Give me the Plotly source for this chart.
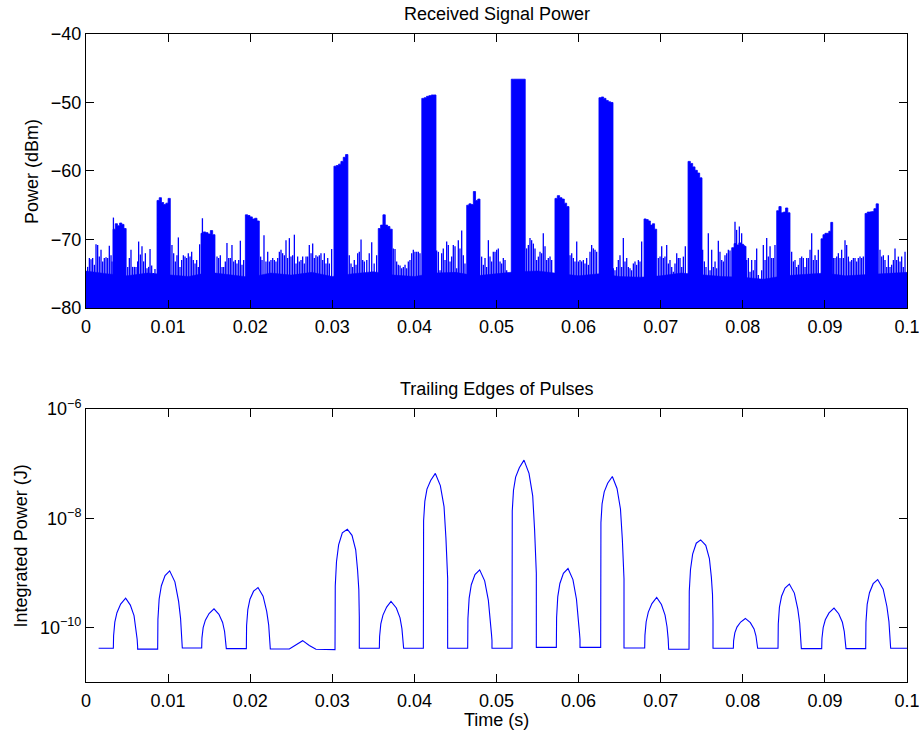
import plotly.graph_objects as go

# ---------------------------------------------------------------
# Received signal power (dBm) vs time (s)
# ---------------------------------------------------------------
# dense noise floor: upper edge of the solid band, every 2.5 ms
floor_t = [k * 0.0025 for k in range(41)]
floor_dbm = [-74.6, -75.0, -75.3, -74.9, -75.2, -75.4, -74.8, -75.2, -75.5, -74.9,
             -75.2, -74.8, -75.4, -75.0, -74.7, -75.2, -75.4, -74.9, -74.8, -75.3,
             -75.0, -74.7, -74.6, -74.9, -75.3, -75.0, -75.4, -75.5, -75.3, -74.9,
             -75.2, -75.4, -75.5, -75.8, -75.3, -75.1, -74.9, -75.3, -75.1, -74.9,
             -74.8]

# noise spikes above the floor
spike_t = [
    0.00020, 0.00041, 0.00061, 0.00081, 0.00102, 0.00122, 0.00142, 0.00162, 0.00183, 0.00203,
    0.00223, 0.00244, 0.00264, 0.00284, 0.00305, 0.00317, 0.00334,
    0.00508, 0.00528, 0.00548, 0.00568, 0.00589, 0.00609, 0.00629, 0.00641, 0.00662, 0.00682,
    0.00702, 0.00723, 0.00743, 0.00763, 0.00780, 0.00800, 0.00820, 0.00840,
    0.01047, 0.01068, 0.01088, 0.01108, 0.01125, 0.01145, 0.01165, 0.01186, 0.01206, 0.01226,
    0.01246, 0.01267, 0.01287, 0.01307, 0.01328, 0.01348, 0.01368, 0.01384, 0.01418,
    0.01596, 0.01616, 0.01636, 0.01657, 0.01677, 0.01697, 0.01717, 0.01738, 0.01758, 0.01778,
    0.01799, 0.01819, 0.01839, 0.01860, 0.01880, 0.01900, 0.01920,
    0.02127, 0.02144, 0.02168, 0.02192, 0.02213, 0.02233, 0.02253, 0.02274, 0.02294, 0.02314,
    0.02335, 0.02355, 0.02375, 0.02395, 0.02416, 0.02436, 0.02456, 0.02477, 0.02497, 0.02517,
    0.02538, 0.02558, 0.02578, 0.02598, 0.02619, 0.02639, 0.02659, 0.02680, 0.02700, 0.02720,
    0.02741, 0.02761, 0.02781, 0.02801, 0.02822, 0.02842, 0.02862, 0.02883, 0.02903, 0.02923,
    0.02944, 0.02964, 0.02992,
    0.03207, 0.03228, 0.03248, 0.03268, 0.03289, 0.03309, 0.03329, 0.03350, 0.03370, 0.03390,
    0.03420, 0.03450, 0.03480, 0.03510, 0.03540,
    0.03743, 0.03764, 0.03784, 0.03804, 0.03825, 0.03845, 0.03865, 0.03886, 0.03906, 0.03926,
    0.03946, 0.03967, 0.03987, 0.04007, 0.04028, 0.04048, 0.04068,
    0.04271, 0.04292, 0.04312, 0.04332, 0.04352, 0.04373, 0.04393, 0.04413, 0.04434, 0.04454,
    0.04474, 0.04495, 0.04515, 0.04535, 0.04555, 0.04576, 0.04596, 0.04616,
    0.04819, 0.04840, 0.04860, 0.04880, 0.04901, 0.04921, 0.04941, 0.04961, 0.04982, 0.05002,
    0.05022, 0.05043, 0.05063, 0.05083, 0.05104, 0.05124,
    0.05367, 0.05388, 0.05408, 0.05428, 0.05449, 0.05469, 0.05489, 0.05510, 0.05530, 0.05550,
    0.05570, 0.05591, 0.05611, 0.05631, 0.05652, 0.05672,
    0.05895, 0.05916, 0.05936, 0.05956, 0.05977, 0.05997, 0.06017, 0.06037, 0.06058, 0.06078,
    0.06098, 0.06119, 0.06139, 0.06159, 0.06180, 0.06200, 0.06220,
    0.06423, 0.06443, 0.06464, 0.06484, 0.06504, 0.06525, 0.06545, 0.06565, 0.06586, 0.06606,
    0.06626, 0.06646, 0.06667, 0.06687, 0.06707, 0.06728, 0.06748, 0.06768,
    0.06971, 0.06992, 0.07012, 0.07032, 0.07052, 0.07073, 0.07093, 0.07113, 0.07134, 0.07154,
    0.07174, 0.07195, 0.07215, 0.07235, 0.07256, 0.07276, 0.07300,
    0.07511, 0.07532, 0.07552, 0.07580, 0.07601, 0.07621, 0.07641, 0.07662, 0.07682, 0.07702,
    0.07722, 0.07743, 0.07763, 0.07783, 0.07804, 0.07824, 0.07844,
    0.07905, 0.07925, 0.07958, 0.07986, 0.08015,
    0.08047, 0.08068, 0.08088, 0.08108, 0.08128, 0.08149, 0.08169, 0.08189, 0.08210, 0.08230,
    0.08250, 0.08271, 0.08291, 0.08311, 0.08332, 0.08352, 0.08372, 0.08392,
    0.08595, 0.08616, 0.08636, 0.08656, 0.08677, 0.08697, 0.08717, 0.08737, 0.08758, 0.08778,
    0.08798, 0.08819, 0.08839, 0.08859, 0.08880, 0.08900, 0.08920,
    0.09103, 0.09123, 0.09144, 0.09164, 0.09184, 0.09204, 0.09225, 0.09245, 0.09265, 0.09286,
    0.09306, 0.09326, 0.09347, 0.09367, 0.09387, 0.09407, 0.09428, 0.09448, 0.09468,
    0.09671, 0.09692, 0.09712, 0.09732, 0.09753, 0.09773, 0.09793, 0.09813, 0.09834, 0.09854,
    0.09874, 0.09895, 0.09915, 0.09935, 0.09955, 0.09976,
]
spike_dbm = [
    -74.0, -72.7, -72.9, -72.7, -73.7, -70.7, -70.8, -72.5, -71.5, -73.2,
    -72.7, -72.6, -72.7, -70.9, -72.3, -73.2, -66.8,
    -74.0, -72.7, -71.5, -74.0, -74.0, -74.0, -73.2, -70.3, -72.2, -71.0,
    -73.2, -72.0, -74.2, -74.0, -71.4, -73.8, -74.9, -74.3,
    -70.8, -72.0, -73.2, -72.3, -69.7, -74.0, -73.0, -72.3, -72.5, -72.7,
    -72.0, -72.5, -71.8, -73.0, -73.5, -73.0, -74.0, -70.7, -66.9,
    -72.5, -72.7, -72.3, -74.0, -74.0, -73.2, -70.5, -72.7, -72.7, -70.8,
    -73.2, -73.0, -73.5, -73.0, -70.2, -73.7, -73.0,
    -72.5, -73.0, -69.4, -73.2, -71.8, -73.2, -73.0, -72.7, -73.0, -73.2,
    -72.7, -71.8, -71.5, -72.0, -72.3, -70.1, -72.7, -69.8, -72.5, -72.3,
    -69.3, -73.5, -72.5, -73.2, -73.0, -72.5, -73.5, -72.5, -72.5, -70.8,
    -72.0, -70.6, -72.7, -72.3, -72.5, -72.3, -72.0, -73.0, -72.0, -73.5,
    -72.7, -73.5, -71.4,
    -72.3, -73.5, -74.0, -73.0, -73.7, -72.0, -71.8, -70.0, -73.0, -73.2,
    -73.0, -72.0, -70.4, -73.5, -72.3,
    -71.3, -71.4, -73.2, -73.7, -73.8, -74.2, -74.0, -73.7, -74.2, -73.2,
    -73.0, -72.0, -71.5, -71.8, -71.8, -71.8, -72.0,
    -71.6, -71.8, -74.5, -72.0, -71.3, -73.0, -70.3, -70.8, -73.2, -72.5,
    -70.8, -71.0, -74.2, -70.1, -71.3, -68.7, -72.3, -73.5,
    -72.5, -73.7, -72.7, -74.0, -70.1, -72.5, -73.2, -71.8, -71.8, -71.5,
    -71.3, -73.2, -73.5, -72.7, -73.0, -74.5,
    -71.3, -70.8, -69.8, -70.1, -70.6, -71.3, -73.0, -72.5, -71.8, -72.0,
    -69.1, -71.0, -73.0, -72.7, -72.5, -73.0,
    -72.3, -72.0, -72.7, -73.2, -70.3, -73.2, -73.0, -73.2, -73.0, -73.5,
    -72.7, -73.7, -71.8, -70.8, -71.3, -71.5, -71.8,
    -74.2, -74.5, -74.0, -73.0, -72.3, -74.0, -69.8, -73.2, -72.7, -74.0,
    -74.2, -74.5, -73.5, -73.2, -73.7, -73.0, -73.2, -70.3,
    -72.7, -72.5, -71.0, -72.7, -72.5, -70.8, -73.5, -73.0, -74.0, -74.7,
    -73.5, -72.0, -72.7, -72.7, -74.0, -72.5, -71.0,
    -71.5, -73.2, -74.0, -69.1, -74.5, -71.5, -74.0, -73.2, -74.2, -70.2,
    -71.8, -73.0, -73.2, -72.3, -72.0, -71.5, -71.6,
    -67.4, -68.6, -68.1, -69.1, -70.8,
    -73.0, -72.7, -74.7, -73.0, -74.5, -73.0, -71.3, -75.2, -76.2, -74.5,
    -70.8, -73.0, -69.8, -72.5, -71.0, -72.7, -72.7, -70.8,
    -71.8, -73.2, -73.0, -74.0, -73.7, -72.7, -72.5, -72.7, -74.0, -72.7,
    -72.7, -71.5, -69.1, -73.0, -72.3, -73.0, -71.5,
    -72.7, -72.7, -72.5, -72.0, -72.7, -71.5, -72.7, -70.1, -70.8, -72.5,
    -73.2, -73.0, -72.7, -72.7, -73.2, -72.7, -72.5, -72.7, -72.5,
    -71.5, -72.5, -72.3, -73.0, -74.0, -72.3, -74.0, -73.7, -73.0, -71.3,
    -73.0, -72.5, -73.2, -72.5, -74.0, -71.8,
]

# pulse bursts: start / end time (s) and the level across each burst (dBm)
burst_start = [0.00330, 0.00865, 0.01401, 0.01941, 0.03020, 0.03560, 0.04090, 0.04637, 0.05180,
               0.05712, 0.06248, 0.06797, 0.07333, 0.07865, 0.08413, 0.08953, 0.09489]
burst_end = [0.00489, 0.01027, 0.01571, 0.02111, 0.03190, 0.03730, 0.04263, 0.04799, 0.05350,
             0.05883, 0.06419, 0.06951, 0.07503, 0.08039, 0.08575, 0.09095, 0.09651]
burst_top = [
    [-68.5, -67.7, -68.0, -67.6, -67.8, -68.4],
    [-64.3, -63.9, -64.6, -64.9, -64.7, -64.0],
    [-69.1, -68.9, -69.0, -69.2, -68.7, -69.3],
    [-66.4, -66.5, -66.7, -67.0, -66.9, -67.3],
    [-59.3, -59.2, -59.0, -58.6, -58.0, -57.6],
    [-68.4, -67.9, -66.4, -67.9, -68.1, -68.5],
    [-49.4, -49.3, -49.1, -49.0, -48.9, -48.9],
    [-65.0, -64.8, -64.9, -63.0, -64.3, -64.1],
    [-46.6, -46.6, -46.6, -46.6, -46.6, -46.6],
    [-64.0, -63.6, -63.9, -64.1, -64.7, -65.2],
    [-49.3, -49.2, -49.4, -49.7, -49.9, -50.0],
    [-67.0, -67.1, -67.3, -67.9, -67.7, -68.5],
    [-58.6, -58.9, -59.4, -59.9, -60.3, -61.0],
    [-71.2, -70.6, -70.8, -70.5, -70.7, -71.0],
    [-65.8, -65.2, -66.1, -66.0, -65.4, -66.1],
    [-69.9, -69.3, -69.1, -69.1, -68.8, -67.5],
    [-66.2, -66.0, -66.0, -65.9, -65.5, -64.8],
]

# ---------------------------------------------------------------
# Trailing edges of pulses: integrated power (J), read as log10(J)
# ---------------------------------------------------------------
trail_t = [
    0.00154,
    0.00333, 0.00336, 0.00351, 0.00377, 0.00422, 0.00483, 0.00540, 0.00585, 0.00608, 0.00623, 0.00629, 0.00629,
    0.00873, 0.00876, 0.00891, 0.00918, 0.00963, 0.01019, 0.01083, 0.01128, 0.01152, 0.01167, 0.01173, 0.01173,
    0.01409, 0.01412, 0.01427, 0.01454, 0.01499, 0.01559, 0.01619, 0.01664, 0.01688, 0.01703, 0.01709, 0.01709,
    0.01953, 0.01956, 0.01971, 0.01997, 0.02041, 0.02095, 0.02157, 0.02201, 0.02225, 0.02239, 0.02245, 0.02245,
    0.02477, 0.02558, 0.02639, 0.02720, 0.02801,
    0.03033, 0.03036, 0.03051, 0.03077, 0.03122, 0.03183, 0.03240, 0.03285, 0.03308, 0.03323, 0.03329, 0.03329,
    0.03573, 0.03576, 0.03591, 0.03617, 0.03662, 0.03715, 0.03780, 0.03825, 0.03848, 0.03863, 0.03869, 0.03869,
    0.04109, 0.04112, 0.04127, 0.04153, 0.04198, 0.04255, 0.04316, 0.04361, 0.04384, 0.04399, 0.04405, 0.04405,
    0.04649, 0.04652, 0.04667, 0.04693, 0.04738, 0.04795, 0.04856, 0.04901, 0.04924, 0.04939, 0.04945, 0.04945,
    0.05189, 0.05192, 0.05207, 0.05233, 0.05278, 0.05335, 0.05396, 0.05441, 0.05464, 0.05479, 0.05485, 0.05485,
    0.05729, 0.05732, 0.05746, 0.05772, 0.05815, 0.05871, 0.05931, 0.05974, 0.05997, 0.06011, 0.06017, 0.06017,
    0.06269, 0.06272, 0.06286, 0.06312, 0.06354, 0.06411, 0.06468, 0.06510, 0.06533, 0.06547, 0.06553, 0.06553,
    0.06805, 0.06808, 0.06823, 0.06849, 0.06893, 0.06951, 0.07009, 0.07053, 0.07077, 0.07091, 0.07097, 0.07097,
    0.07345, 0.07348, 0.07363, 0.07389, 0.07433, 0.07487, 0.07549, 0.07593, 0.07617, 0.07631, 0.07637, 0.07637,
    0.07885, 0.07888, 0.07903, 0.07929, 0.07974, 0.08031, 0.08092, 0.08137, 0.08160, 0.08175, 0.08181, 0.08181,
    0.08429, 0.08432, 0.08446, 0.08472, 0.08514, 0.08567, 0.08628, 0.08670, 0.08693, 0.08707, 0.08713, 0.08713,
    0.08961, 0.08964, 0.08979, 0.09005, 0.09050, 0.09111, 0.09168, 0.09213, 0.09236, 0.09251, 0.09257, 0.09257,
    0.09497, 0.09500, 0.09515, 0.09543, 0.09588, 0.09643, 0.09710, 0.09755, 0.09780, 0.09795, 0.09801, 0.09801,
    0.10000,
]
trail_log10_j = [
    -10.383,
    -10.383, -10.153, -9.905, -9.730, -9.573, -9.463, -9.592, -9.785, -9.997, -10.217, -10.355, -10.398,
    -10.398, -9.853, -9.480, -9.236, -9.050, -8.964, -9.165, -9.523, -9.839, -10.140, -10.255, -10.377,
    -10.377, -10.197, -10.004, -9.867, -9.745, -9.659, -9.760, -9.910, -10.075, -10.248, -10.355, -10.389,
    -10.389, -9.964, -9.673, -9.483, -9.337, -9.270, -9.427, -9.706, -9.953, -10.188, -10.277, -10.395,
    -10.395, -10.320, -10.243, -10.330, -10.400,
    -10.407, -9.239, -8.798, -8.490, -8.269, -8.203, -8.313, -8.578, -8.952, -9.305, -9.812, -10.383,
    -10.383, -10.168, -9.937, -9.774, -9.628, -9.525, -9.645, -9.825, -10.023, -10.229, -10.357, -10.383,
    -10.383, -8.045, -7.692, -7.468, -7.308, -7.180, -7.404, -7.789, -8.365, -8.910, -9.102, -10.383,
    -10.383, -9.837, -9.463, -9.219, -9.032, -8.946, -9.147, -9.506, -9.823, -10.124, -10.239, -10.383,
    -10.383, -7.867, -7.488, -7.247, -7.075, -6.937, -7.178, -7.592, -8.212, -8.798, -9.005, -10.365,
    -10.365, -9.817, -9.441, -9.196, -9.009, -8.922, -9.124, -9.485, -9.802, -10.105, -10.221, -10.365,
    -10.365, -8.081, -7.737, -7.518, -7.361, -7.236, -7.455, -7.831, -8.394, -8.926, -9.113, -10.377,
    -10.377, -10.146, -9.896, -9.720, -9.563, -9.452, -9.581, -9.776, -9.988, -10.210, -10.349, -10.401,
    -10.401, -9.339, -8.939, -8.658, -8.458, -8.398, -8.498, -8.739, -9.079, -9.399, -9.860, -10.383,
    -10.383, -10.246, -10.099, -9.995, -9.902, -9.836, -9.913, -10.027, -10.153, -10.285, -10.367, -10.383,
    -10.383, -9.936, -9.630, -9.430, -9.278, -9.207, -9.372, -9.666, -9.924, -10.171, -10.265, -10.389,
    -10.389, -10.203, -10.003, -9.861, -9.735, -9.646, -9.750, -9.906, -10.077, -10.255, -10.367, -10.389,
    -10.389, -9.908, -9.579, -9.364, -9.199, -9.123, -9.300, -9.617, -9.895, -10.161, -10.262, -10.383,
    -10.383,
]
trail_j = [10.0 ** v for v in trail_log10_j]

x_ticks = [0, 0.01, 0.02, 0.03, 0.04, 0.05, 0.06, 0.07, 0.08, 0.09, 0.1]
power_ticks = [-80, -70, -60, -50, -40]
energy_ticks = [1e-10, 1e-8, 1e-6]
energy_tick_text = ["10<sup>\u221210</sup>", "10<sup>\u22128</sup>", "10<sup>\u22126</sup>"]

BLUE = "#0000ff"
FONT = "Liberation Sans, Arial, Helvetica, sans-serif"
DB_MIN, DB_MAX = -80, -40

# ---- build the top-panel marks ----
floor_x = [0.0] + floor_t + [0.1]
floor_y = [DB_MIN] + floor_dbm + [DB_MIN]

spike_x, spike_y = [], []
for t, v in zip(spike_t, spike_dbm):
    spike_x += [t, t, None]
    spike_y += [DB_MIN, v, None]

burst_x, burst_y = [], []
for t0, t1, tops in zip(burst_start, burst_end, burst_top):
    step = (t1 - t0) / len(tops)
    xs, ys = [t0], [DB_MIN]
    for k, v in enumerate(tops):
        xs += [t0 + k * step, t0 + (k + 1) * step]
        ys += [v, v]
    xs.append(t1)
    ys.append(DB_MIN)
    burst_x += xs + [None]
    burst_y += ys + [None]

fig = go.Figure()
fig.add_trace(go.Scatter(x=floor_x, y=floor_y, mode="lines", fill="toself",
                         fillcolor=BLUE, line=dict(color=BLUE, width=0.5),
                         xaxis="x", yaxis="y", hoverinfo="skip"))
fig.add_trace(go.Scatter(x=spike_x, y=spike_y, mode="lines",
                         line=dict(color=BLUE, width=1.3),
                         xaxis="x", yaxis="y", hoverinfo="skip"))
fig.add_trace(go.Scatter(x=burst_x, y=burst_y, mode="lines", fill="toself",
                         fillcolor=BLUE, line=dict(color=BLUE, width=0.8),
                         xaxis="x", yaxis="y", hoverinfo="skip"))
fig.add_trace(go.Scatter(x=trail_t, y=trail_j, mode="lines",
                         line=dict(color=BLUE, width=1.1),
                         xaxis="x2", yaxis="y2"))

TICK_FONT = dict(family=FONT, size=18, color="black")
LABEL_FONT = dict(family=FONT, size=18, color="black")

axis_common = dict(showline=True, linecolor="black", linewidth=1, mirror="allticks",
                   ticks="inside", ticklen=8, tickwidth=1, tickcolor="black",
                   showgrid=False, zeroline=False, tickfont=TICK_FONT,
                   ticklabeloverflow="allow")


def label(text, x, y, angle=0):
    return dict(text=text, x=x, y=y, xref="paper", yref="paper", xanchor="center",
                yanchor="middle", textangle=angle, showarrow=False, font=LABEL_FONT)


fig.update_layout(
    width=919, height=734,
    margin=dict(l=86, r=12, t=34, b=52),
    paper_bgcolor="white", plot_bgcolor="white",
    showlegend=False, template="none",
    xaxis=dict(domain=[0, 1], range=[0, 0.1], tickvals=x_ticks, anchor="y",
               ticklabelstandoff=2, **axis_common),
    yaxis=dict(domain=[0.5772, 1], range=[DB_MIN, DB_MAX], tickvals=power_ticks, anchor="x",
               ticklabelstandoff=0, **axis_common),
    xaxis2=dict(domain=[0, 1], range=[0, 0.1], tickvals=x_ticks, anchor="y2",
                ticklabelstandoff=2, **axis_common),
    yaxis2=dict(domain=[0, 0.4213], type="log", range=[-11, -6], tickvals=energy_ticks,
                ticktext=energy_tick_text, anchor="x2", ticklabelstandoff=0, **axis_common),
    annotations=[
        label("Received Signal Power", 0.5, 1.0309),
        label("Trailing Edges of Pulses", 0.5, 0.4522),
        label("Time (s)", 0.5, -0.0586),
        label("Power (dBm)", -0.0658, 0.7886, -90),
        label("Integrated Power (J)", -0.0780, 0.2107, -90),
    ],
)

fig.write_html("out.html")
